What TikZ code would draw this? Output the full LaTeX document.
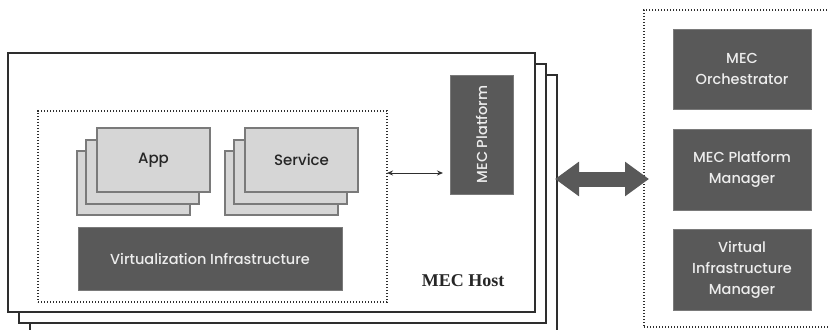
\documentclass[tikz,border=0pt]{standalone}
\usepackage{fontspec}
\setmainfont{Liberation Serif}
\newfontfamily\boxfont{Poppins}[BoldFont={Poppins Medium}]
\usetikzlibrary{arrows.meta}

\definecolor{boxdark}{HTML}{595959}
\definecolor{boxlight}{HTML}{D6D6D6}
\definecolor{boxline}{HTML}{7A7A7A}
\definecolor{frameline}{HTML}{2E2E2E}

\begin{document}
\begin{tikzpicture}[x=1pt,y=-1pt,
	hostbox/.style={draw=frameline, line width=1.8pt, fill=white, anchor=north west,
		inner sep=0pt, outer sep=0pt, minimum width=527pt, minimum height=259pt},
	appbox/.style={draw=boxline, line width=1.3pt, fill=boxlight, anchor=north west,
		inner sep=0pt, outer sep=0pt, minimum width=113pt, minimum height=64pt},
	darkbox/.style={draw=boxdark!80, fill=boxdark, anchor=north west, align=center,
		inner sep=0pt, outer sep=0pt, text=white!93!black,
		font=\boxfont\bfseries\fontsize{14.5}{21}\selectfont},
	dotbox/.style={draw=frameline, line width=1.4pt, dash pattern=on 1.2pt off 1.8pt,
		anchor=north west, inner sep=0pt, outer sep=0pt}]

	\useasboundingbox (0,0) rectangle (829,329);

	% ---- MEC host stack

	\def\hostx{8}
	\def\hosty{53}

	\foreach \i in {2,1,0} {
		\node[hostbox] (host\i) at ({\hostx+11*\i},{\hosty+11*\i}) {};
	}

	\node[dotbox, minimum width=349pt, minimum height=191pt] (virt) at (38,111) {};

	% ---- app and service stacks

	\foreach \i/\dx/\dy in {2/-20/23, 1/-11/12, 0/0/0} {
		\node[appbox] (app\i) at ({97+\dx},{128+\dy}) {};
		\node[appbox] (srv\i) at ({245+\dx},{128+\dy}) {};
	}
	\node[text=black!85, font=\boxfont\bfseries\fontsize{15}{17}\selectfont] at (app0) {App};
	\node[text=black!85, font=\boxfont\bfseries\fontsize{15}{17}\selectfont] at (srv0) {Service};

	\node[darkbox, minimum width=264pt, minimum height=63pt] (vi) at (78,227) {Virtualization Infrastructure};

	\node[darkbox, minimum width=63pt, minimum height=119pt] (plat) at (450,75) {};
	\node[rotate=90, text=white!93!black, font=\boxfont\bfseries\fontsize{14.5}{16}\selectfont] at (plat) {MEC Platform};

	\node[font=\bfseries\fontsize{18}{20}\selectfont, text=black!85] (hostlabel) at (463,281) {MEC Host};

	% ---- management side

	\node[dotbox, minimum width=200pt, minimum height=317pt] (mgmt) at (644,10) {};

	\node[darkbox, minimum width=138pt, minimum height=80pt] (orch) at (673,29) {MEC\\Orchestrator};
	\node[darkbox, minimum width=138pt, minimum height=81pt] (pm) at (673,129) {MEC Platform\\Manager};
	\node[darkbox, minimum width=138pt, minimum height=81pt] (vim) at (673,229) {Virtual\\Infrastructure\\Manager};

	% ---- connectors

	\coordinate (smally) at (0,173);
	\coordinate (bigy) at (0,179);

	\draw[line width=1pt, frameline, {Stealth[length=6pt,width=5pt]}-{Stealth[length=6pt,width=5pt]},
		shorten >=7pt] (virt.east |- smally) -- (plat.west |- smally);

	\draw[line width=15pt, boxdark, {Triangle[length=24pt,width=33pt]}-{Triangle[length=24pt,width=33pt]},
		shorten <=-2pt, shorten >=-5pt] (host2.east |- bigy) -- (mgmt.west |- bigy);

\end{tikzpicture}
\end{document}
